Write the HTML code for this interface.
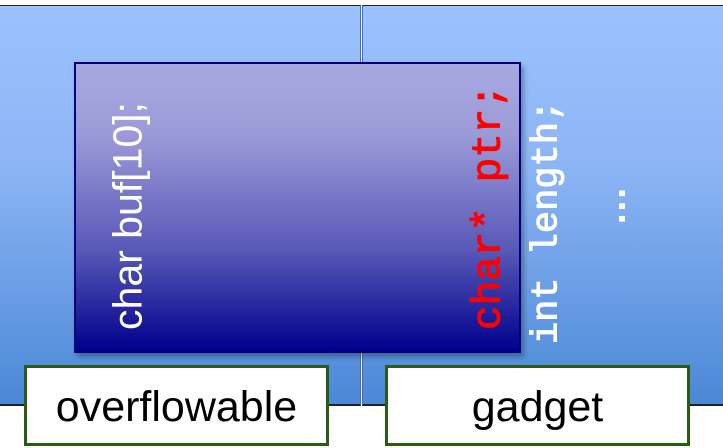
<!DOCTYPE html>
<html><head><meta charset="utf-8"><style>
body{margin:0;width:723px;height:448px;overflow:hidden;background:#fff;position:relative;font-family:"Liberation Sans",sans-serif}
.p{position:absolute;top:5px;height:401px;background:linear-gradient(#9bc2ff,#8db5f5 40%,#4b88d6);border-top:1px solid #222;border-bottom:2px solid #222;box-sizing:border-box}
.r{position:absolute;white-space:nowrap;transform:translate(-50%,-50%) rotate(-90deg);line-height:1}
.lab{position:absolute;top:365px;height:81px;width:305px;background:#fff;border:3px solid #2b5a12;box-sizing:border-box;text-align:center;font-size:43px;line-height:78px;color:#000}
</style></head><body>
<div class="p" style="left:0;width:361px;border-right:1px solid #3f6fb0"></div>
<div class="p" style="left:362px;width:361px;border-left:1px solid #3f6fb0"></div>
<div style="position:absolute;left:74px;top:62px;width:447px;height:291px;box-sizing:border-box;border:2px solid #00007a;background:linear-gradient(#a8a8e0,#9a9ad8 25%,#5858b8 65%,#00008c);box-shadow:3px 4px 5px rgba(0,0,0,.3)"></div>
<div class="r" style="left:128px;top:216px;font-size:41px;color:#fff">char buf[10];</div>
<div class="r" style="left:490px;top:207px;font-size:41px;color:#f00;font-family:'Liberation Mono',monospace;-webkit-text-stroke:1px #f00">char* ptr;</div>
<div class="r" style="left:548px;top:222px;font-size:37px;color:#fff;font-family:'Liberation Mono',monospace;-webkit-text-stroke:1px #fff">int length;</div>
<div class="r" style="left:612px;top:206px;font-size:40px;color:#fff;font-weight:bold">…</div>
<div class="lab" style="left:24px">overflowable</div>
<div class="lab" style="left:385px">gadget</div>
</body></html>
